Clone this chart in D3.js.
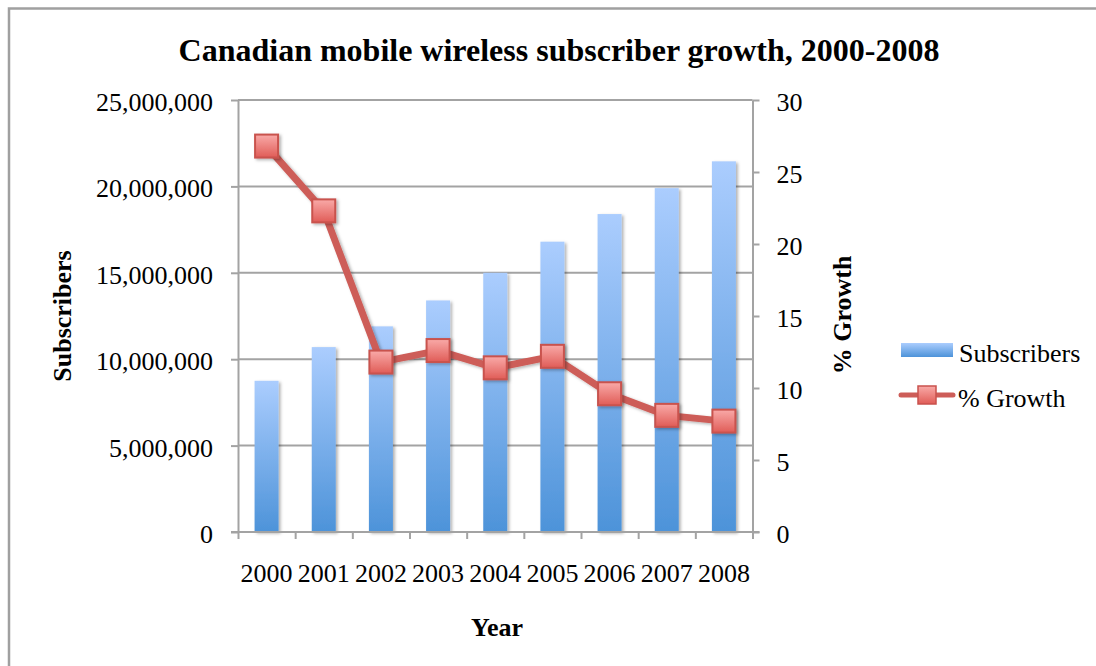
<!DOCTYPE html>
<html>
<head>
<meta charset="utf-8">
<script src="https://cdn.jsdelivr.net/npm/d3@7"></script>
<style>
  body { margin: 0; background: #fff; }
  text { font-family: "Liberation Serif", "Times New Roman", serif; fill: #000; }
</style>
</head>
<body>
<div id="chart"></div>
<script>
// data
const years = ["2000", "2001", "2002", "2003", "2004", "2005", "2006", "2007", "2008"]
const subscribers = [8750000, 10700000, 11900000, 13400000, 15000000, 16800000, 18400000, 19900000, 21450000]
const growth = [26.8, 22.3, 11.8, 12.6, 11.4, 12.2, 9.6, 8.1, 7.7]
const leftTicks = [0, 5000000, 10000000, 15000000, 20000000, 25000000]
const rightTicks = [0, 5, 10, 15, 20, 25, 30]

const canvasWidth = 1096
const canvasHeight = 666
const plot = {left: 238, right: 752.5, top: 100, bottom: 532}
const gridColor = "#a3a3a3"

const svg = d3.select("#chart")
    .append("svg")
    .attr("width", canvasWidth)
    .attr("height", canvasHeight)

const defs = svg.append("defs")
const barGrad = defs.append("linearGradient")
    .attr("id", "barGrad").attr("x1", 0).attr("y1", 0).attr("x2", 0).attr("y2", 1)
barGrad.append("stop").attr("offset", "0%").attr("stop-color", "#abcdfe")
barGrad.append("stop").attr("offset", "100%").attr("stop-color", "#4d93d9")
const markGrad = defs.append("linearGradient")
    .attr("id", "markGrad").attr("x1", 0).attr("y1", 0).attr("x2", 0).attr("y2", 1)
markGrad.append("stop").attr("offset", "0%").attr("stop-color", "#f9aaa8")
markGrad.append("stop").attr("offset", "100%").attr("stop-color", "#e05c57")
const shadow = defs.append("filter").attr("id", "shadow")
    .attr("x", "-30%").attr("y", "-30%").attr("width", "160%").attr("height", "160%")
shadow.append("feDropShadow")
    .attr("dx", 2).attr("dy", 1.5).attr("stdDeviation", 1.8)
    .attr("flood-color", "#000").attr("flood-opacity", 0.3)

// outer frame
svg.append("rect")
    .attr("x", 9).attr("y", 8.5)
    .attr("width", 1200).attr("height", 800)
    .attr("fill", "none").attr("stroke", "#a0a0a0").attr("stroke-width", 2.5)

// scales
const x = d3.scaleBand().domain(years).range([plot.left, plot.right]).paddingInner(0).paddingOuter(0)
const xEdge = d3.scaleLinear().domain([0, years.length]).range([plot.left, plot.right])
const yLeft = d3.scaleLinear().domain([0, 25000000]).range([plot.bottom, plot.top])
const yRight = d3.scaleLinear().domain([0, 30]).range([plot.bottom, plot.top])

// gridlines
svg.append("g").selectAll("line")
    .data(leftTicks)
    .enter()
    .append("line")
        .attr("x1", plot.left).attr("x2", plot.right)
        .attr("y1", d => yLeft(d)).attr("y2", d => yLeft(d))
        .attr("stroke", gridColor).attr("stroke-width", 2)

// axes
function styleAxis(g) {
    g.selectAll("path, line").attr("stroke", gridColor).attr("stroke-width", 2)
    g.selectAll("text").attr("font-size", "26px").attr("font-family", "Liberation Serif, serif").attr("fill", "#000")
}

svg.append("g")
    .attr("transform", "translate(" + plot.left + ",0)")
    .call(d3.axisLeft(yLeft).tickValues(leftTicks).tickFormat(d3.format(",")).tickSize(7).tickSizeOuter(0).tickPadding(18))
    .call(styleAxis)
    .call(g => g.selectAll("text").attr("dy", "0.4em"))

svg.append("g")
    .attr("transform", "translate(" + plot.right + ",0)")
    .call(d3.axisRight(yRight).tickValues(rightTicks).tickSize(7).tickSizeOuter(0).tickPadding(17))
    .call(styleAxis)
    .call(g => g.selectAll("text").attr("dy", "0.4em"))

// bars
const barWidth = x.bandwidth() * 0.42
svg.append("g").selectAll("rect")
    .data(years)
    .enter()
    .append("rect")
        .attr("x", (d) => x(d) + (x.bandwidth() - barWidth) / 2)
        .attr("y", (d, i) => yLeft(subscribers[i]))
        .attr("width", barWidth)
        .attr("height", (d, i) => plot.bottom - yLeft(subscribers[i]))
        .attr("fill", "url(#barGrad)")
        .attr("filter", "url(#shadow)")

// bottom axis: tick marks on category edges, labels at centres
svg.append("g")
    .attr("transform", "translate(0," + plot.bottom + ")")
    .call(d3.axisBottom(xEdge).ticks(years.length).tickSize(7).tickSizeOuter(0).tickFormat(""))
    .call(styleAxis)
    .call(g => g.select(".domain").attr("d", "M" + (plot.left - 7) + ",0H" + (plot.right + 7)))

svg.append("g")
    .attr("transform", "translate(0," + plot.bottom + ")")
    .call(d3.axisBottom(x).tickSize(0).tickPadding(32))
    .call(styleAxis)
    .call(g => g.select(".domain").remove())

// growth line
const line = d3.line()
    .x((d, i) => x(years[i]) + x.bandwidth() / 2)
    .y(d => yRight(d))
svg.append("path")
    .datum(growth)
    .attr("d", line)
    .attr("fill", "none")
    .attr("stroke", "#cd5d58")
    .attr("stroke-width", 7)
    .attr("stroke-linejoin", "round")
    .attr("filter", "url(#shadow)")

const mark = 23
svg.append("g").selectAll("rect")
    .data(growth)
    .enter()
    .append("rect")
        .attr("x", (d, i) => x(years[i]) + x.bandwidth() / 2 - mark / 2)
        .attr("y", d => yRight(d) - mark / 2)
        .attr("width", mark).attr("height", mark)
        .attr("fill", "url(#markGrad)")
        .attr("stroke", "#c9524d").attr("stroke-width", 2)
        .attr("filter", "url(#shadow)")

// titles
svg.append("text")
    .attr("x", 559).attr("y", 61)
    .attr("text-anchor", "middle")
    .attr("font-size", "32px").attr("font-weight", "bold")
    .text("Canadian mobile wireless subscriber growth, 2000-2008")

svg.append("text")
    .attr("transform", "translate(71,316) rotate(-90)")
    .attr("text-anchor", "middle")
    .attr("font-size", "26px").attr("font-weight", "bold")
    .text("Subscribers")

svg.append("text")
    .attr("transform", "translate(851,315) rotate(-90)")
    .attr("text-anchor", "middle")
    .attr("font-size", "26px").attr("font-weight", "bold")
    .text("% Growth")

svg.append("text")
    .attr("x", 497).attr("y", 636)
    .attr("text-anchor", "middle")
    .attr("font-size", "26px").attr("font-weight", "bold")
    .text("Year")

// legend
const legend = svg.append("g")
legend.append("rect")
    .attr("x", 901).attr("y", 343).attr("width", 52).attr("height", 14)
    .attr("fill", "url(#barGrad)")
legend.append("text")
    .attr("x", 959).attr("y", 362)
    .attr("font-size", "26px")
    .text("Subscribers")
legend.append("line")
    .attr("x1", 901).attr("x2", 953).attr("y1", 395).attr("y2", 395)
    .attr("stroke", "#cd5d58").attr("stroke-width", 5).attr("stroke-linecap", "round")
legend.append("rect")
    .attr("x", 918).attr("y", 386).attr("width", 18).attr("height", 18)
    .attr("fill", "url(#markGrad)")
    .attr("stroke", "#c9524d").attr("stroke-width", 1.5)
legend.append("text")
    .attr("x", 958).attr("y", 407)
    .attr("font-size", "26px")
    .text("% Growth")
</script>
</body>
</html>
